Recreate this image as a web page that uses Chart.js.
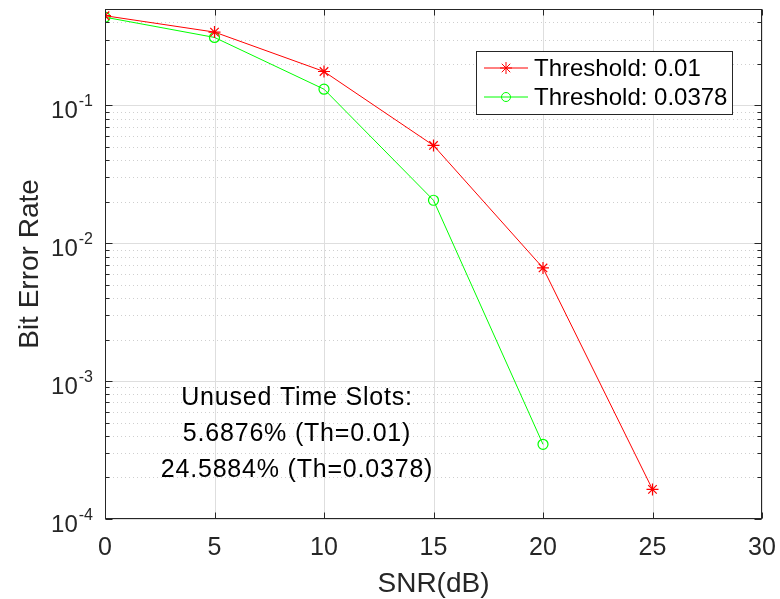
<!DOCTYPE html>
<html>
<head>
<meta charset="utf-8">
<script src="https://cdn.jsdelivr.net/npm/chart.js@4.4.1/dist/chart.umd.min.js"></script>
<style>
  body { margin: 0; background: #fff; }
  #wrap { width: 780px; height: 599px; position: relative; }
</style>
</head>
<body>
<div id="wrap"><canvas id="berChart"></canvas></div>
<script>
// ---- data ----
const SNR_DB = [0, 5, 10, 15, 20, 25];
const BER_TH_001 = [0.447, 0.34, 0.176, 0.0512, 0.00662, 0.000164];
const BER_TH_0378 = [0.436, 0.311, 0.131, 0.0205, 0.000348];
const X_TICKS = [0, 5, 10, 15, 20, 25, 30];
const Y_DECADES = [-4, -3, -2, -1];
const SERIES_LABELS = ['Threshold: 0.01', 'Threshold: 0.0378'];
const NOTE_LINES = ['Unused Time Slots:', '5.6876% (Th=0.01)', '24.5884% (Th=0.0378)'];

const FONT = '"Liberation Sans", Arial, Helvetica, sans-serif';
const AXIS_COLOR = '#262626';

function toPoints(xs, ys) {
    return ys.map((y, i) => ({ x: xs[i], y: y }));
}

// MATLAB-like axes: grid, box, ticks, labels, legend and text note
const matlabAxes = {
    id: 'matlabAxes',
    beforeDatasetsDraw(chart) {
        const ctx = chart.ctx;
        const a = chart.chartArea;
        const xs = chart.scales.x;
        const ys = chart.scales.y;
        ctx.save();
        // minor grid (dotted)
        ctx.strokeStyle = '#cfcfcf';
        ctx.lineWidth = 1;
        ctx.setLineDash([1, 3]);
        Y_DECADES.forEach(d => {
            for (let m = 2; m <= 9; m++) {
                const v = m * Math.pow(10, d);
                if (v > ys.max) continue;
                const py = Math.round(ys.getPixelForValue(v)) + 0.5;
                ctx.beginPath();
                ctx.moveTo(a.left, py);
                ctx.lineTo(a.right, py);
                ctx.stroke();
            }
        });
        // major grid (solid)
        ctx.setLineDash([]);
        ctx.strokeStyle = '#dedede';
        X_TICKS.forEach(t => {
            const px = Math.round(xs.getPixelForValue(t)) + 0.5;
            ctx.beginPath();
            ctx.moveTo(px, a.top);
            ctx.lineTo(px, a.bottom);
            ctx.stroke();
        });
        Y_DECADES.forEach(d => {
            const py = Math.round(ys.getPixelForValue(Math.pow(10, d))) + 0.5;
            ctx.beginPath();
            ctx.moveTo(a.left, py);
            ctx.lineTo(a.right, py);
            ctx.stroke();
        });
        ctx.restore();
    },
    afterDatasetsDraw(chart) {
        const ctx = chart.ctx;
        const a = chart.chartArea;
        const xs = chart.scales.x;
        const ys = chart.scales.y;
        ctx.save();
        ctx.strokeStyle = AXIS_COLOR;
        ctx.lineWidth = 1;
        const L = Math.round(a.left) + 0.5, R = Math.round(a.right) - 0.5;
        const T = Math.round(a.top) + 0.5, B = Math.round(a.bottom) - 0.5;
        ctx.strokeRect(L, T, R - L, B - T);

        // x ticks (bottom and top)
        X_TICKS.forEach(t => {
            const px = Math.round(xs.getPixelForValue(t)) + 0.5;
            ctx.beginPath();
            ctx.moveTo(px, B); ctx.lineTo(px, B - 6);
            ctx.moveTo(px, T); ctx.lineTo(px, T + 6);
            ctx.stroke();
        });
        // y ticks (left and right), major and minor
        Y_DECADES.forEach(d => {
            for (let m = 1; m <= 9; m++) {
                const v = m * Math.pow(10, d);
                if (v > ys.max) continue;
                const len = m === 1 ? 7 : 4;
                const py = Math.round(ys.getPixelForValue(v)) + 0.5;
                ctx.beginPath();
                ctx.moveTo(L, py); ctx.lineTo(L + len, py);
                ctx.moveTo(R, py); ctx.lineTo(R - len, py);
                ctx.stroke();
            }
        });

        // x tick labels
        ctx.fillStyle = AXIS_COLOR;
        ctx.font = '25px ' + FONT;
        ctx.textAlign = 'center';
        ctx.textBaseline = 'alphabetic';
        X_TICKS.forEach(t => {
            ctx.fillText(String(t), xs.getPixelForValue(t), a.bottom + 36);
        });

        // y tick labels 10^d
        Y_DECADES.forEach(d => {
            const py = ys.getPixelForValue(Math.pow(10, d));
            const sup = String(d);
            ctx.font = '16px ' + FONT;
            const sw = ctx.measureText(sup).width;
            ctx.textAlign = 'right';
            const supRight = a.left - 12;
            ctx.fillText(sup, supRight, py + 1);
            ctx.font = '24px ' + FONT;
            ctx.fillText('10', supRight - sw - 1, py + 13);
        });

        // axis titles
        ctx.fillStyle = AXIS_COLOR;
        ctx.font = '28px ' + FONT;
        ctx.textAlign = 'center';
        ctx.fillText('SNR(dB)', (a.left + a.right) / 2, 592);
        ctx.save();
        ctx.translate(38, (a.top + a.bottom) / 2);
        ctx.rotate(-Math.PI / 2);
        ctx.fillText('Bit Error Rate', 0, 0);
        ctx.restore();

        // text note
        ctx.fillStyle = '#000';
        ctx.font = '25px ' + FONT;
        ctx.letterSpacing = '0.8px';
        ctx.textAlign = 'center';
        const noteY = [405, 441, 477];
        NOTE_LINES.forEach((s, i) => ctx.fillText(s, 297, noteY[i]));
        ctx.letterSpacing = '0px';

        // legend
        const bx = 476.5, by = 51.5, bw = 256, bh = 63;
        ctx.fillStyle = '#fff';
        ctx.fillRect(bx, by, bw, bh);
        ctx.strokeStyle = AXIS_COLOR;
        ctx.strokeRect(bx, by, bw, bh);
        const rowY = [68, 97];
        chart.data.datasets.forEach((ds, i) => {
            const y = rowY[i];
            ctx.strokeStyle = ds.borderColor;
            ctx.lineWidth = 1;
            ctx.beginPath();
            ctx.moveTo(484, y); ctx.lineTo(528, y);
            ctx.stroke();
            ctx.fillStyle = 'rgba(0,0,0,0)';
            Chart.helpers.drawPoint(ctx, {
                pointStyle: ds.pointStyle,
                radius: ds.pointStyle === 'circle' ? 4.5 : ds.pointRadius,
                borderWidth: 1
            }, 506, y);
            ctx.fillStyle = '#000';
            ctx.font = '24px ' + FONT;
            ctx.textAlign = 'left';
            ctx.textBaseline = 'middle';
            ctx.fillText(SERIES_LABELS[i], 534, y + 1);
            ctx.textBaseline = 'alphabetic';
        });
        ctx.restore();
    }
};

const ctx = document.getElementById('berChart').getContext('2d');
new Chart(ctx, {
    type: 'line',
    data: {
        datasets: [{
            label: SERIES_LABELS[0],
            data: toPoints(SNR_DB, BER_TH_001),
            borderColor: '#ff0000',
            backgroundColor: 'rgba(0,0,0,0)',
            borderWidth: 1,
            pointStyle: 'star',
            pointRadius: 6,
            pointBorderWidth: 1.2,
            pointBorderColor: '#ff0000',
            tension: 0
        }, {
            label: SERIES_LABELS[1],
            data: toPoints(SNR_DB, BER_TH_0378),
            borderColor: '#00ff00',
            backgroundColor: 'rgba(0,0,0,0)',
            borderWidth: 1,
            pointStyle: 'circle',
            pointRadius: 5,
            pointBorderWidth: 1.2,
            pointBorderColor: '#00ff00',
            tension: 0
        }]
    },
    options: {
        responsive: true,
        maintainAspectRatio: false,
        animation: false,
        layout: { padding: { left: 105, right: 18, top: 9, bottom: 80 } },
        plugins: {
            legend: { display: false },
            tooltip: { enabled: false }
        },
        scales: {
            x: { type: 'linear', min: 0, max: 30, display: false },
            y: { type: 'logarithmic', min: 1e-4, max: 0.5, display: false }
        }
    },
    plugins: [matlabAxes]
});
</script>
</body>
</html>
